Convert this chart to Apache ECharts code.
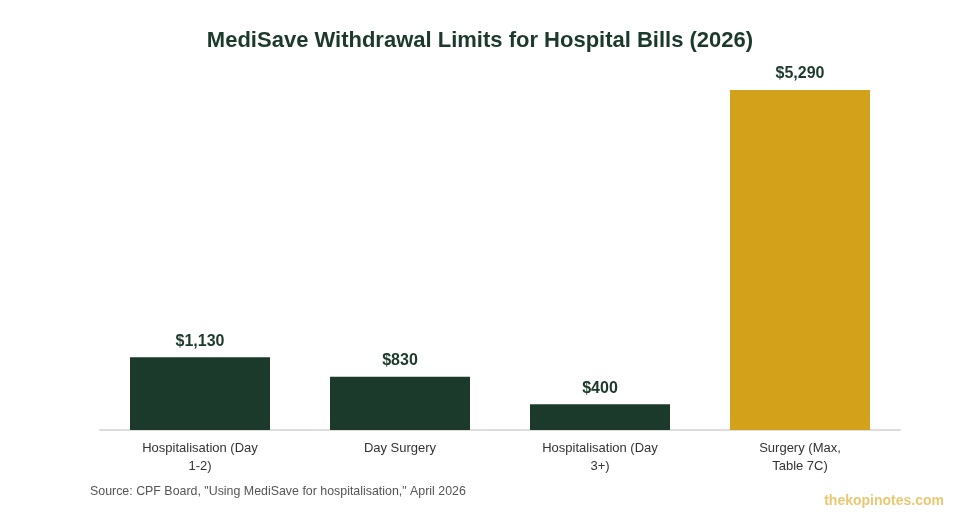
<!DOCTYPE html>
<html>
<head>
<meta charset="utf-8">
<script src="https://cdn.jsdelivr.net/npm/echarts@6/dist/echarts.min.js"></script>
<style>
html,body{margin:0;padding:0;background:#fff;}
#c{width:960px;height:520px;}
</style>
</head>
<body>
<div id="c"></div>
<script>
const categories = ["Hospitalisation (Day 1-2)", "Day Surgery", "Hospitalisation (Day 3+)", "Surgery (Max, Table 7C)"];
const tickLabels = ["Hospitalisation (Day\n1-2)", "Day Surgery", "Hospitalisation (Day\n3+)", "Surgery (Max,\nTable 7C)"];
const values = [1130, 830, 400, 5290];
const barColors = ["#1c3a2b", "#1c3a2b", "#1c3a2b", "#d4a11a"];
const titleText = "MediSave Withdrawal Limits for Hospital Bills (2026)";
const sourceText = 'Source: CPF Board, "Using MediSave for hospitalisation," April 2026';
const watermark = "thekopinotes.com";

const chart = echarts.init(document.getElementById('c'));
chart.setOption({
  backgroundColor: '#fff',
  animation: false,
  textStyle: { fontFamily: 'Liberation Sans, Arial, sans-serif' },
  title: {
    text: titleText,
    left: 'center',
    top: 25,
    textStyle: { fontSize: 22, fontWeight: 'bold', color: '#1c3a2b', fontFamily: 'Liberation Sans, Arial, sans-serif' }
  },
  grid: { left: 100, right: 60, top: 90, bottom: 90, containLabel: false },
  xAxis: {
    type: 'category',
    data: categories,
    axisLine: { show: true, lineStyle: { color: '#dddddd', width: 2 } },
    axisTick: { show: false },
    axisLabel: {
      color: '#333',
      fontSize: 13,
      margin: 9,
      lineHeight: 18,
      interval: 0,
      formatter: (v, i) => tickLabels[i]
    }
  },
  yAxis: {
    type: 'value',
    min: 0,
    max: 'dataMax',
    show: false,
    splitLine: { show: false }
  },
  series: [{
    type: 'bar',
    barWidth: '70%',
    data: values.map((v, i) => ({ value: v, itemStyle: { color: barColors[i] } })),
    label: {
      show: true,
      position: 'top',
      distance: 8,
      fontSize: 16,
      fontWeight: 'bold',
      color: '#1c3a2b',
      formatter: p => '$' + p.value.toLocaleString('en-US')
    }
  }],
  graphic: [
    {
      type: 'text', left: 90, top: 486,
      style: { text: sourceText, fill: '#555', fontSize: 12.4, fontFamily: 'Liberation Sans, Arial, sans-serif' }
    },
    {
      type: 'text', right: 16, top: 494,
      style: { text: watermark, fill: '#e9c873', fontSize: 14, fontWeight: 'bold', fontFamily: 'Liberation Sans, Arial, sans-serif' }
    }
  ]
});
</script>
</body>
</html>
